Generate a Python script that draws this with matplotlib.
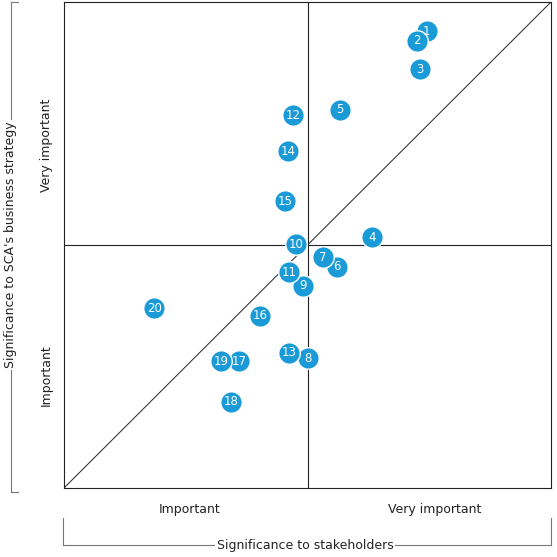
import matplotlib.pyplot as plt
from matplotlib.lines import Line2D

labels = [str(i) for i in range(1, 21)]
stakeholders = [74.5, 72.5, 73.1, 63.2, 56.7, 56.1, 53.2, 50.1, 49.1, 47.6,
                46.2, 47.0, 46.2, 46.0, 45.4, 40.2, 35.9, 34.3, 32.2, 18.5]
strategy = [94.0, 92.0, 86.2, 51.6, 77.8, 45.5, 47.5, 26.7, 41.6, 50.2,
            44.4, 76.7, 27.8, 69.3, 59.0, 35.4, 26.1, 17.7, 26.1, 37.0]

W = H = 557
fig = plt.figure(figsize=(5.57, 5.57), dpi=100)
ax = fig.add_axes([64 / W, 1 - 488 / H, 487 / W, 486 / H])
ax.set_xlim(0, 100)
ax.set_ylim(0, 100)
ax.set_xticks([])
ax.set_yticks([])
for s in ax.spines.values():
    s.set_color('#222222')
    s.set_linewidth(0.8)

lc = '#222222'
ax.plot([0, 100], [0, 100], color=lc, lw=0.7)
ax.axvline(50, color=lc, lw=0.8)
ax.axhline(50, color=lc, lw=0.8)

blue = '#1a9ad6'
ax.scatter(stakeholders, strategy, s=240, color=blue, edgecolor='white',
           linewidth=1.0, zorder=3)
for x, y, t in zip(stakeholders, strategy, labels):
    ax.text(x, y, t, color='white', fontsize=8.5, ha='center', va='center', zorder=4)

# brackets in pixel coordinates
def px(x, y):
    return x / W, 1 - y / H

gray = '#777777'
for (x0, y0), (x1, y1) in [((18, 2), (11, 2)), ((11, 2), (11, 492)), ((11, 492), (18, 492)),
                           ((63, 518), (63, 545)), ((63, 545), (551, 545)), ((551, 545), (551, 518))]:
    a, b = px(x0, y0)
    c, d = px(x1, y1)
    fig.add_artist(Line2D([a, c], [b, d], color=gray, lw=0.8, transform=fig.transFigure))

fs = 9
fig.text(*px(11, 245), "Significance to SCA's business strategy", rotation=90,
         ha='center', va='center', fontsize=fs, color='#222222',
         bbox=dict(facecolor='white', edgecolor='none', pad=1))
fig.text(*px(305, 545), "Significance to stakeholders", ha='center', va='center',
         fontsize=fs, color='#222222', bbox=dict(facecolor='white', edgecolor='none', pad=1))
fig.text(*px(46, 145), "Very important", rotation=90, ha='center', va='center',
         fontsize=fs, color='#222222')
fig.text(*px(46, 375), "Important", rotation=90, ha='center', va='center',
         fontsize=fs, color='#222222')
fig.text(*px(190, 510), "Important", ha='center', va='center', fontsize=fs, color='#222222')
fig.text(*px(435, 510), "Very important", ha='center', va='center', fontsize=fs, color='#222222')

fig.savefig('out.png', dpi=100)
